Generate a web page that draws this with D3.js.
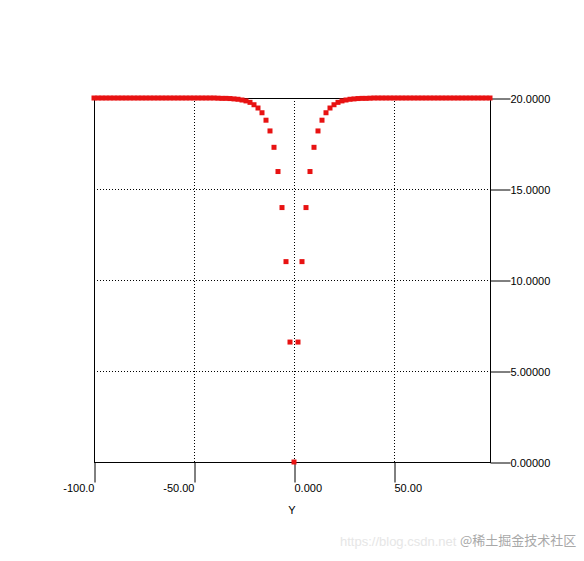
<!DOCTYPE html>
<html>
<head>
<meta charset="utf-8">
<script src="https://cdn.jsdelivr.net/npm/d3@7"></script>
<style>
  body { margin: 0; background: #fff; }
  svg { display: block; font-family: "Liberation Sans", Arial, sans-serif; }
</style>
</head>
<body>
<div id="chart"></div>
<script>
// x values of the sampled points
const xValues = [
  -100, -98, -96, -94, -92, -90, -88, -86, -84, -82,
  -80, -78, -76, -74, -72, -70, -68, -66, -64, -62,
  -60, -58, -56, -54, -52, -50, -48, -46, -44, -42,
  -40, -38, -36, -34, -32, -30, -28, -26, -24, -22,
  -20, -18, -16, -14, -12, -10, -8, -6, -4, -2,
  0, 2, 4, 6, 8, 10, 12, 14, 16, 18,
  20, 22, 24, 26, 28, 30, 32, 34, 36, 38,
  40, 42, 44, 46, 48, 50, 52, 54, 56, 58,
  60, 62, 64, 66, 68, 70, 72, 74, 76, 78,
  80, 82, 84, 86, 88, 90, 92, 94, 96, 98
];

// y values
const yValues = [
  20.00, 20.00, 20.00, 20.00, 20.00, 20.00, 20.00, 20.00, 20.00, 20.00,
  20.00, 20.00, 20.00, 20.00, 20.00, 20.00, 20.00, 20.00, 20.00, 20.00,
  20.00, 20.00, 20.00, 20.00, 20.00, 20.00, 20.00, 20.00, 20.00, 20.00,
  20.00, 19.99, 19.98, 19.98, 19.97, 19.95, 19.93, 19.89, 19.84, 19.76,
  19.63, 19.45, 19.19, 18.78, 18.19, 17.29, 15.96, 13.98, 11.01, 6.59,
  0.00, 6.59, 11.01, 13.98, 15.96, 17.29, 18.19, 18.78, 19.19, 19.45,
  19.63, 19.76, 19.84, 19.89, 19.93, 19.95, 19.97, 19.98, 19.98, 19.99,
  20.00, 20.00, 20.00, 20.00, 20.00, 20.00, 20.00, 20.00, 20.00, 20.00,
  20.00, 20.00, 20.00, 20.00, 20.00, 20.00, 20.00, 20.00, 20.00, 20.00,
  20.00, 20.00, 20.00, 20.00, 20.00, 20.00, 20.00, 20.00, 20.00, 20.00
];

const xTicks = [-100, -50, 0, 50];
const xTickLabels = ["-100.0", "-50.00", "0.000", "50.00"];
const yTicks = [0, 5, 10, 15, 20];
const yTickLabels = ["0.00000", "5.00000", "10.0000", "15.0000", "20.0000"];
const xGrid = [-50, 0, 50];
const yGrid = [5, 10, 15];
const xTitle = "Y";

const W = 584, H = 561;
const plotLeft = 94, plotRight = 490, plotTop = 98, plotBottom = 462;

const svg = d3.select("#chart").append("svg")
  .attr("width", W)
  .attr("height", H);

const x = d3.scaleLinear().domain([-100, 98]).range([plotLeft, plotRight]);
const y = d3.scaleLinear().domain([0, 20]).range([plotBottom, plotTop]);

// dotted grid
svg.selectAll(".vgrid")
  .data(xGrid)
  .enter().append("line")
  .attr("x1", d => Math.round(x(d)) + 0.5)
  .attr("x2", d => Math.round(x(d)) + 0.5)
  .attr("y1", plotTop)
  .attr("y2", plotBottom)
  .attr("stroke", "#000")
  .attr("stroke-dasharray", "1,2");

svg.selectAll(".hgrid")
  .data(yGrid)
  .enter().append("line")
  .attr("y1", d => Math.round(y(d)) + 0.5)
  .attr("y2", d => Math.round(y(d)) + 0.5)
  .attr("x1", plotLeft)
  .attr("x2", plotRight)
  .attr("stroke", "#000")
  .attr("stroke-dasharray", "1,2");

// frame
svg.append("rect")
  .attr("x", plotLeft + 0.5)
  .attr("y", plotTop + 0.5)
  .attr("width", plotRight - plotLeft)
  .attr("height", plotBottom - plotTop)
  .attr("fill", "none")
  .attr("stroke", "#000");

// bottom axis
const xAxis = svg.append("g")
  .attr("transform", "translate(0," + (plotBottom + 0.5) + ")")
  .call(d3.axisBottom(x).tickValues(xTicks).tickSize(20).tickSizeOuter(0)
    .tickFormat((d, i) => xTickLabels[i]));
xAxis.select(".domain").remove();
xAxis.selectAll(".tick line").attr("stroke", "#000").attr("transform", "translate(0.5,0)");
xAxis.selectAll(".tick text")
  .attr("y", 22)
  .attr("dy", "0.71em")
  .attr("fill", "#000")
  .style("font-size", "11px")
  .attr("text-anchor", d => d < 0 ? "end" : "start");

// right axis
const yAxis = svg.append("g")
  .attr("transform", "translate(" + (plotRight + 0.5) + ",0)")
  .call(d3.axisRight(y).tickValues(yTicks).tickSize(20).tickSizeOuter(0)
    .tickFormat((d, i) => yTickLabels[i]));
yAxis.select(".domain").remove();
yAxis.selectAll(".tick line").attr("stroke", "#000").attr("transform", "translate(0,0.5)");
yAxis.selectAll(".tick text")
  .attr("x", 20)
  .attr("dy", "0.42em")
  .attr("fill", "#000")
  .style("font-size", "11px");

svg.append("text")
  .attr("x", x(0) - 2)
  .attr("y", 514)
  .attr("text-anchor", "middle")
  .style("font-size", "11px")
  .text(xTitle);

// points
const points = xValues.map((d, i) => ({ x: d, y: yValues[i] }));
svg.selectAll(".pt")
  .data(points)
  .enter().append("rect")
  .attr("class", "pt")
  .attr("x", d => x(d.x) - 2.5)
  .attr("y", d => y(d.y) - 2.5)
  .attr("width", 5)
  .attr("height", 5)
  .attr("fill", "#e81212");

// watermark
svg.append("text")
  .attr("x", 340)
  .attr("y", 546)
  .style("font-size", "13px")
  .attr("fill", "#e6e6e6")
  .text("https://blog.csdn.net");
svg.append("text")
  .attr("x", 460)
  .attr("y", 545)
  .style("font-size", "13px")
  .style("font-family", "'Noto Sans CJK SC', sans-serif")
  .attr("fill", "#a8a8a8")
  .attr("stroke", "#fff")
  .attr("stroke-width", 0.6)
  .attr("paint-order", "stroke")
  .text("@稀土掘金技术社区");
</script>
</body>
</html>
